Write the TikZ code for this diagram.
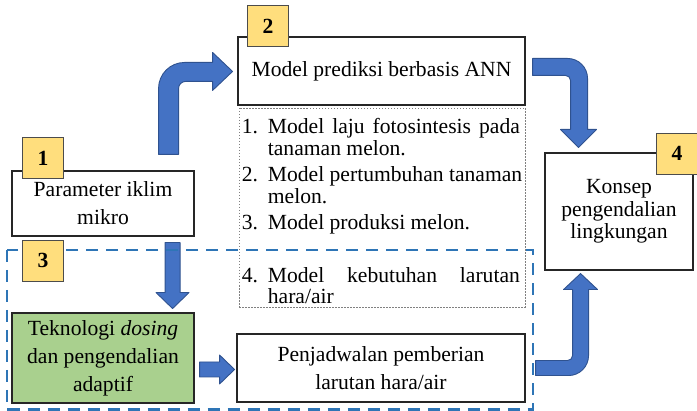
\documentclass[tikz,border=0pt]{standalone}
\usepackage{fontspec}
\setmainfont{Liberation Serif}
\usetikzlibrary{calc}

\definecolor{biru}{RGB}{68,114,196}
\definecolor{birutua}{RGB}{47,82,143}
\definecolor{garisbiru}{RGB}{46,117,182}
\definecolor{kuning}{RGB}{255,222,125}
\definecolor{hijau}{RGB}{169,208,142}

\newcommand{\huruf}[1]{\fontsize{21.6}{#1}\selectfont}

\begin{document}
\begin{tikzpicture}[x=1pt, y=-1pt,
  kotak/.style={draw=black!85, line width=1.1pt, align=center, inner sep=0pt, font=\huruf{28}},
  nomor/.style={draw=black!70, line width=0.9pt, fill=kuning, minimum width=41pt, minimum height=41pt, inner sep=0pt, font=\huruf{24}\bfseries},
  panah/.style={fill=biru, draw=birutua, line width=0.9pt, line join=round}]
  \useasboundingbox (0,0) rectangle (697,411);

  % kotak-kotak utama
  \node[kotak, minimum width=182pt, minimum height=65pt] (param) at (103,203.5) {Parameter iklim\\mikro};
  \node[kotak, minimum width=287pt, minimum height=68pt] (prediksi) at (381.5,71) {Model prediksi berbasis ANN};
  \node[kotak, minimum width=148pt, minimum height=117pt, font=\huruf{22.5}] (konsep) at (619,211.5) {Konsep\\pengendalian\\lingkungan};
  \node[kotak, fill=hijau, minimum width=182pt, minimum height=90pt] (teknologi) at (103,358) {Teknologi \textit{dosing}\\dan pengendalian\\adaptif};
  \node[kotak, minimum width=288pt, minimum height=68pt] (jadwal) at (381,368) {Penjadwalan pemberian\\larutan hara/air};

  % daftar model (kotak bertitik)
  \node[draw=gray, line width=0.6pt, dash pattern=on 1.5pt off 1.5pt, minimum width=286pt, minimum height=199pt, inner sep=0pt] (daftar) at (382,207.5) {};
  \node[anchor=north west, inner sep=0pt, align=left, font=\huruf{21.5}] (isi) at ($(daftar.north west)+(3,10.5)$) {%
    \makebox[26pt][l]{1.}\makebox[252pt][s]{Model laju fotosintesis pada}\\
    \hspace*{26pt}tanaman melon.\\[5pt]
    \makebox[26pt][l]{2.}Model pertumbuhan tanaman\\
    \hspace*{26pt}melon.\\[5pt]
    \makebox[26pt][l]{3.}Model produksi melon.\\[31pt]
    \makebox[26pt][l]{4.}\makebox[252pt][s]{Model kebutuhan larutan}\\
    \hspace*{26pt}hara/air};

  % panah: parameter -> model prediksi
  \filldraw[panah] ($(param.north east)+(-36,-16)$) [rounded corners=26pt] -- ++(0,-92) [sharp corners] -- ++(54,0) -- ++(0,-10) -- ++(20,19) -- ++(-20,19) -- ++(0,-9) [rounded corners=7pt] -- ++(-34,0) [sharp corners] -- ++(0,73) -- cycle;
  % panah: model prediksi -> konsep
  \filldraw[panah] ($(prediksi.north east)+(7,22)$) [rounded corners=20pt] -- ++(55,0) [sharp corners] -- ++(0,71) -- ++(9,0) -- ++(-18,18) -- ++(-18,-18) -- ++(10,0) [rounded corners=5pt] -- ++(0,-54) [sharp corners] -- ++(-38,0) -- cycle;
  % panah: penjadwalan -> konsep
  \filldraw[panah] ($(jadwal.south east)+(10,-27)$) [rounded corners=20pt] -- ++(53,0) [sharp corners] -- ++(0,-86) -- ++(9,0) -- ++(-17,-16) -- ++(-17,16) -- ++(9,0) [rounded corners=5pt] -- ++(0,71) [sharp corners] -- ++(-37,0) -- cycle;
  % panah lurus
  \filldraw[panah] ($(param.south east)+(-29.5,6)$) -- ++(15,0) -- ++(0,50) -- ++(9,0) -- ++(-16.5,16) -- ++(-16.5,-16) -- ++(9,0) -- cycle;
  \filldraw[panah] ($(teknologi.east)+(5,4)$) -- ++(20,0) -- ++(0,-7) -- ++(15,14.5) -- ++(-15,14.5) -- ++(0,-7) -- ++(-20,0) -- cycle;

  % batas sistem (garis putus biru)
  \draw[garisbiru, line width=2.8pt, dash pattern=on 12pt off 8pt] (7,250) rectangle (533,409.5);

  % nomor
  \node[nomor] (n1) at (43,158) {1};
  \node[nomor] (n2) at (268,26) {2};
  \node[nomor] (n3) at (43,260.5) {3};
  \node[nomor] (n4) at (677,153.5) {4};
\end{tikzpicture}
\end{document}
